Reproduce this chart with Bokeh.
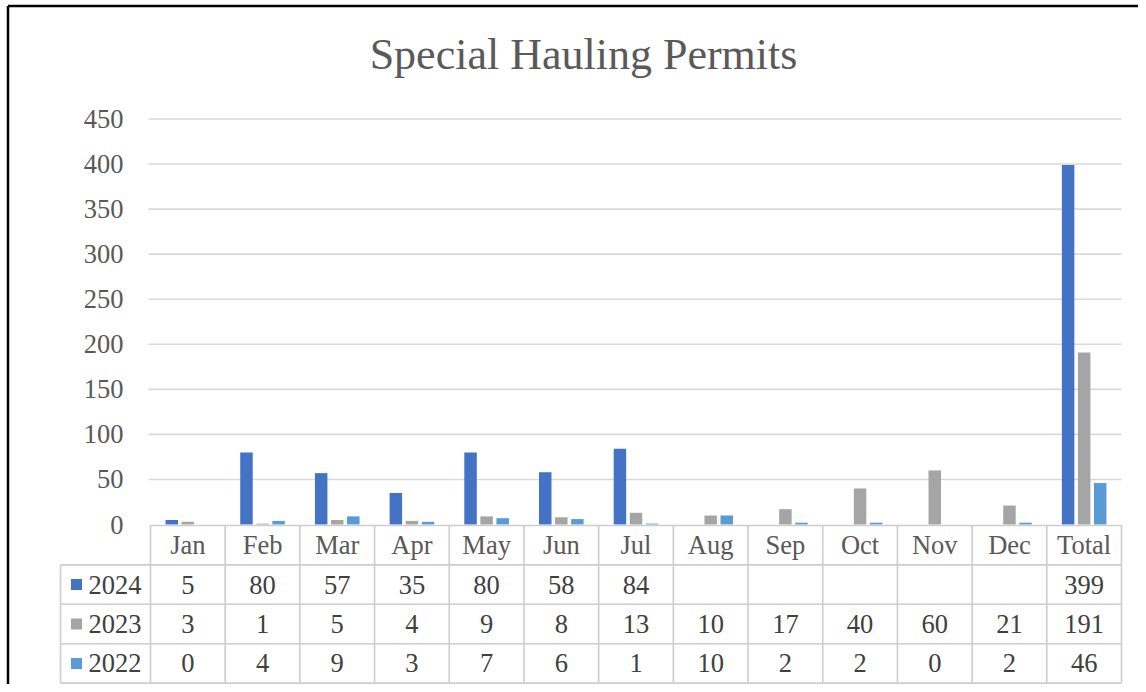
from bokeh.plotting import figure
from bokeh.models import Range1d
from bokeh.core.properties import value
from bokeh.embed import file_html
from bokeh.resources import INLINE

# ---------------- data ----------------
title = "Special Hauling Permits"
categories = ["Jan", "Feb", "Mar", "Apr", "May", "Jun", "Jul",
              "Aug", "Sep", "Oct", "Nov", "Dec", "Total"]
series_names = ["2024", "2023", "2022"]
values_2024 = [5, 80, 57, 35, 80, 58, 84, None, None, None, None, None, 399]
values_2023 = [3, 1, 5, 4, 9, 8, 13, 10, 17, 40, 60, 21, 191]
values_2022 = [0, 4, 9, 3, 7, 6, 1, 10, 2, 2, 0, 2, 46]
y_ticks = [0, 50, 100, 150, 200, 250, 300, 350, 400, 450]
series_colors = ["#4472C4", "#A5A5A5", "#5B9BD5"]

all_series = [values_2024, values_2023, values_2022]

# ---------------- layout geometry (canvas pixels) ----------------
W, H = 1138, 684
PLOT_L, PLOT_R = 150, 1121
Y_ZERO, Y_TOP = 524, 118.5
ncol = len(categories)
col_px = (PLOT_R - PLOT_L) / ncol
ppu = (Y_ZERO - Y_TOP) / max(y_ticks)
ROW_H = 39.4
LEG_L = 60

def X(px):
    return (px - PLOT_L) / col_px

def Y(py):
    return (Y_ZERO - py) / ppu

FONT = value("Liberation Serif")
TXT = "#595959"
GRID = "#D9D9D9"
TBL = "#CDCDCD"
FS = value("26.5px")

p = figure(width=W, height=H,
           x_range=Range1d(X(0), X(W)),
           y_range=Range1d(Y(H), Y(0)),
           output_backend="svg", toolbar_location=None,
           x_axis_location=None, y_axis_location=None,
           min_border=0)
p.grid.grid_line_color = None
p.outline_line_color = None
p.background_fill_color = "white"
p.border_fill_color = "white"

# chart border (left and top visible)
p.segment(x0=[X(7.5), X(7.5)], y0=[Y(H), Y(5.5)],
          x1=[X(7.5), X(W)], y1=[Y(5.5), Y(5.5)],
          line_color="black", line_width=2.5)

# title
p.text(x=[X(583)], y=[Y(54)], text=[title], text_font=FONT,
       text_font_size=value("44px"), text_color=TXT,
       text_align="center", text_baseline="middle")

# gridlines
gt = [t for t in y_ticks if t > 0]
p.segment(x0=[X(148)] * len(gt), y0=gt, x1=[ncol] * len(gt), y1=gt,
          line_color=GRID, line_width=1.6)

# y tick labels
p.text(x=[X(123)] * len(y_ticks), y=y_ticks, text=[str(t) for t in y_ticks],
       text_font=FONT, text_font_size=FS, text_color=TXT,
       text_align="right", text_baseline="middle")

# bars
offsets = [-0.215, 0.0, 0.215]
bar_w = 12.5 / col_px
for s, vals, col, off in zip(series_names, all_series, series_colors, offsets):
    xs = [i + 0.5 + off for i, v in enumerate(vals) if v is not None]
    ys = [v for v in vals if v is not None]
    p.vbar(x=xs, top=ys, bottom=0, width=bar_w, fill_color=col,
           line_color=None)

# data table
row_py = [Y_ZERO + 1 + k * ROW_H for k in range(len(series_names) + 2)]
row_y = [Y(py) for py in row_py]
# horizontal lines
p.segment(x0=[0] + [X(LEG_L)] * (len(row_y) - 1), y0=row_y,
          x1=[ncol] * len(row_y), y1=row_y, line_color=TBL, line_width=1.6)
# vertical lines
vx = list(range(ncol + 1))
p.segment(x0=vx, y0=[row_y[0]] * len(vx), x1=vx, y1=[row_y[-1]] * len(vx),
          line_color=TBL, line_width=1.6)
p.segment(x0=[X(LEG_L)], y0=[row_y[1]], x1=[X(LEG_L)], y1=[row_y[-1]],
          line_color=TBL, line_width=1.6)

# header text
hdr_y = (row_y[0] + row_y[1]) / 2
p.text(x=[i + 0.5 for i in range(ncol)], y=[hdr_y] * ncol, text=categories,
       text_font=FONT, text_font_size=FS, text_color=TXT,
       text_align="center", text_baseline="middle")

# rows
for r, (s, vals, col) in enumerate(zip(series_names, all_series, series_colors)):
    cy = (row_y[r + 1] + row_y[r + 2]) / 2
    xs = [i + 0.5 for i, v in enumerate(vals) if v is not None]
    ts = [str(v) for v in vals if v is not None]
    p.text(x=xs, y=[cy] * len(xs), text=ts, text_font=FONT,
           text_font_size=FS, text_color="#404040",
           text_align="center", text_baseline="middle")
    p.scatter(x=[X(76)], y=[cy], marker="square", size=11,
              fill_color=col, line_color=None)
    p.text(x=[X(88)], y=[cy], text=[s], text_font=FONT,
           text_font_size=FS, text_color="#404040",
           text_align="left", text_baseline="middle")

open("out.html", "w").write(file_html(p, INLINE))
